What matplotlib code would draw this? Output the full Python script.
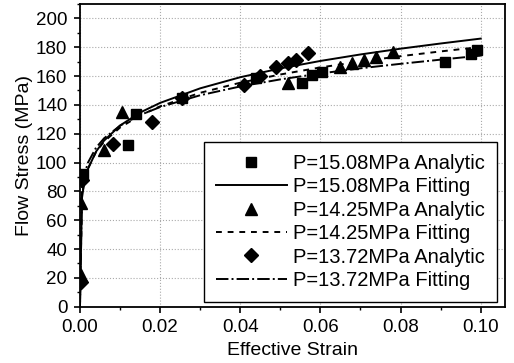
import numpy as np
import matplotlib
matplotlib.use("Agg")
import matplotlib.pyplot as plt
from matplotlib.ticker import MultipleLocator

plt.rcParams['font.family'] = ['Liberation Sans', 'DejaVu Sans']

# analytic points (strain, stress in MPa)
sq_x = [0.0008, 0.012, 0.014, 0.0255, 0.044, 0.0555, 0.058, 0.0605, 0.091, 0.0975, 0.099]
sq_y = [92, 112, 134, 145, 159, 155, 161, 163, 170, 175, 178]

tri_x = [0.0003, 0.0003, 0.006, 0.0105, 0.052, 0.065, 0.068, 0.0708, 0.0738, 0.078]
tri_y = [22, 72, 109, 135, 155, 166, 169, 171, 173, 177]

dia_x = [0.0002, 0.0006, 0.0083, 0.018, 0.0255, 0.041, 0.045, 0.049, 0.052, 0.054, 0.0568]
dia_y = [17, 88, 113, 128, 145, 154, 160, 166, 169, 171, 176]

# fitting curves
fit_x = [0, 0.0005, 0.001, 0.002, 0.004, 0.006, 0.01, 0.015, 0.02, 0.03,
         0.04, 0.05, 0.06, 0.07, 0.08, 0.09, 0.1]
fit_1508 = [0, 75.5, 85, 95.6, 107.6, 115.2, 125.7, 134.7, 141.4, 151.5,
            159.2, 165.3, 170.5, 175, 179, 182.6, 186]
fit_1425 = [0, 76.8, 85.9, 96, 107.3, 114.5, 124.3, 132.7, 139, 148.4,
            155.4, 161.1, 166, 170.1, 173.8, 177.1, 180.2]
fit_1372 = [0, 82.2, 90.6, 100, 110.3, 116.8, 125.6, 133, 138.5, 146.7,
            152.8, 157.7, 161.8, 165.4, 168.5, 171.4, 174.2]

fig = plt.figure(figsize=(5.14, 3.63), dpi=100)
ax = fig.add_axes([0.1556, 0.155, 0.8264, 0.834])

ax.plot(sq_x, sq_y, 's', color='black', ms=7, ls='none', label='P=15.08MPa Analytic')
ax.plot(fit_x, fit_1508, '-', color='black', lw=1.4, label='P=15.08MPa Fitting')
ax.plot(tri_x, tri_y, '^', color='black', ms=8, ls='none', label='P=14.25MPa Analytic')
ax.plot(fit_x, fit_1425, '--', color='black', lw=1.4, dashes=(3, 3), label='P=14.25MPa Fitting')
ax.plot(dia_x, dia_y, 'D', color='black', ms=7, ls='none', label='P=13.72MPa Analytic')
ax.plot(fit_x, fit_1372, '-.', color='black', lw=1.4, label='P=13.72MPa Fitting')

ax.set_xlim(0, 0.106)
ax.set_ylim(0, 210)
ax.xaxis.set_major_locator(MultipleLocator(0.02))
ax.xaxis.set_minor_locator(MultipleLocator(0.01))
ax.yaxis.set_major_locator(MultipleLocator(20))
ax.yaxis.set_minor_locator(MultipleLocator(10))
ax.xaxis.set_major_formatter(plt.FuncFormatter(lambda v, p: f"{v:.2f}"))
ax.tick_params(which='major', direction='out', length=4, width=1.2, labelsize=13.5)
ax.tick_params(which='minor', direction='out', length=2.5, width=1)
ax.tick_params(axis='x', which='major', pad=5)
ax.tick_params(axis='y', which='major', pad=5)
ax.grid(True, which='major', ls=':', color='#aaaaaa', lw=0.8)
for s in ax.spines.values():
    s.set_linewidth(1.3)

ax.set_xlabel('Effective Strain', fontsize=14, labelpad=4)
ax.set_ylabel('Flow Stress (MPa)', fontsize=14, labelpad=2)

leg = ax.legend(loc='lower right', bbox_to_anchor=(0.981, 0.0155), borderaxespad=0,
                fontsize=14.5, frameon=True, fancybox=False, edgecolor='black',
                handlelength=3.5, handletextpad=0.3, labelspacing=0.22,
                borderpad=0.6, framealpha=1)
leg.get_frame().set_linewidth(1.0)

fig.savefig('out.png', dpi=100)
